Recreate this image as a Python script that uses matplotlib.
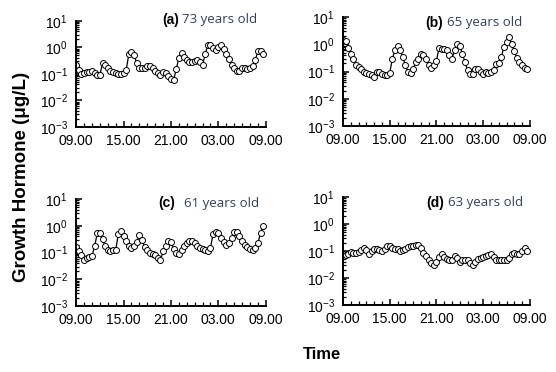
import numpy as np
import matplotlib
matplotlib.use("Agg")
import matplotlib.pyplot as plt
from matplotlib.ticker import LogLocator, MultipleLocator, FixedLocator, FixedFormatter

plt.rcParams['font.family'] = ['Liberation Sans', 'DejaVu Sans']
plt.rcParams['mathtext.default'] = 'regular'

# sample times (hours after 09.00, every 20 minutes)
hours = np.arange(72) / 3.0

time_ticks = [0, 6, 12, 18, 24]
time_labels = ['09.00', '15.00', '21.00', '03.00', '09.00']

panel_tags = ['(a)', '(b)', '(c)', '(d)']
panel_ages = ['73 years old', '65 years old', '61 years old', '63 years old']

gh_a = [0.21, 0.14, 0.10, 0.11, 0.12, 0.12, 0.13, 0.11, 0.09, 0.09, 0.25, 0.21,
        0.16, 0.13, 0.12, 0.11, 0.10, 0.10, 0.11, 0.14, 0.55, 0.68, 0.50, 0.25,
        0.16, 0.16, 0.17, 0.19, 0.20, 0.16, 0.13, 0.11, 0.09, 0.12, 0.11, 0.08,
        0.065, 0.058, 0.15, 0.40, 0.60, 0.45, 0.33, 0.28, 0.27, 0.30, 0.32, 0.27,
        0.22, 0.55, 1.25, 1.20, 0.95, 0.80, 1.00, 1.20, 0.85, 0.55, 0.35, 0.22,
        0.16, 0.13, 0.13, 0.16, 0.17, 0.15, 0.16, 0.20, 0.33, 0.72, 0.75, 0.55]

gh_b = [1.5, 1.3, 0.75, 0.45, 0.28, 0.17, 0.15, 0.12, 0.10, 0.09, 0.085, 0.075,
        0.065, 0.10, 0.10, 0.08, 0.075, 0.075, 0.09, 0.30, 0.60, 0.85, 0.60, 0.35,
        0.17, 0.10, 0.09, 0.12, 0.22, 0.30, 0.45, 0.42, 0.28, 0.17, 0.14, 0.18,
        0.25, 0.75, 0.70, 0.65, 0.60, 0.40, 0.30, 0.60, 1.05, 0.85, 0.45, 0.22,
        0.11, 0.085, 0.085, 0.12, 0.13, 0.10, 0.08, 0.095, 0.09, 0.10, 0.11, 0.19,
        0.20, 0.35, 0.80, 1.20, 1.80, 1.05, 0.55, 0.32, 0.22, 0.17, 0.14, 0.13]

gh_c = [0.16, 0.11, 0.08, 0.055, 0.065, 0.07, 0.075, 0.17, 0.52, 0.52, 0.32, 0.17,
        0.13, 0.11, 0.12, 0.12, 0.50, 0.62, 0.40, 0.27, 0.18, 0.15, 0.17, 0.25,
        0.45, 0.30, 0.16, 0.12, 0.10, 0.09, 0.08, 0.065, 0.052, 0.11, 0.17, 0.28,
        0.24, 0.14, 0.10, 0.09, 0.12, 0.17, 0.22, 0.28, 0.27, 0.22, 0.17, 0.15,
        0.14, 0.12, 0.11, 0.15, 0.50, 0.58, 0.55, 0.35, 0.25, 0.19, 0.22, 0.35,
        0.58, 0.60, 0.42, 0.28, 0.20, 0.16, 0.14, 0.13, 0.15, 0.22, 0.55, 0.95]

gh_d = [0.08, 0.07, 0.075, 0.095, 0.087, 0.085, 0.095, 0.11, 0.13, 0.11, 0.075, 0.10,
        0.12, 0.115, 0.11, 0.105, 0.12, 0.16, 0.15, 0.13, 0.12, 0.115, 0.105, 0.11,
        0.115, 0.14, 0.15, 0.16, 0.165, 0.17, 0.13, 0.087, 0.065, 0.045, 0.035, 0.03,
        0.04, 0.06, 0.075, 0.06, 0.05, 0.045, 0.048, 0.068, 0.055, 0.038, 0.045, 0.045,
        0.048, 0.035, 0.03, 0.038, 0.05, 0.055, 0.06, 0.068, 0.072, 0.078, 0.06, 0.045,
        0.045, 0.045, 0.045, 0.045, 0.055, 0.075, 0.085, 0.078, 0.08, 0.10, 0.13, 0.10]

series = [gh_a, gh_b, gh_c, gh_d]

fig = plt.figure(figsize=(5.56, 3.72), dpi=100)
rects = [
    [0.137, 0.659, 0.341, 0.285],
    [0.617, 0.661, 0.336, 0.293],
    [0.137, 0.177, 0.341, 0.288],
    [0.617, 0.180, 0.336, 0.290],
]
title_pos = [(0.545, 1.01), (0.535, 0.95), (0.524, 0.96), (0.54, 0.95)]
age_x = [0.556, 0.556, 0.571, 0.561]

for i, r in enumerate(rects):
    ax = fig.add_axes(r)
    ax.plot(hours, series[i], '-', color='black', lw=0.9,
            marker='o', ms=4.3, mfc='white', mec='black', mew=0.7)
    ax.set_yscale('log')
    ax.set_ylim(1e-3, 1e1)
    ax.set_xlim(0, 24)
    ax.yaxis.set_major_locator(LogLocator(base=10, numticks=10))
    ax.yaxis.set_minor_locator(LogLocator(base=10, subs=np.arange(2, 10), numticks=20))
    ax.xaxis.set_major_locator(FixedLocator(time_ticks))
    ax.xaxis.set_major_formatter(FixedFormatter(time_labels))
    ax.xaxis.set_minor_locator(MultipleLocator(1))
    for s in ['top', 'right']:
        ax.spines[s].set_visible(False)
    for s in ['left', 'bottom']:
        ax.spines[s].set_linewidth(1.4)
    ax.tick_params(which='major', direction='in', length=4, width=1.1,
                   labelsize=10, pad=5)
    ax.tick_params(which='minor', direction='in', length=3, width=0.9)
    ax.tick_params(axis='y', which='major', pad=6)
    ax.tick_params(axis='y', which='minor', length=2.5)
    tx, ty = title_pos[i]
    ax.text(tx, ty, panel_tags[i], transform=ax.transAxes, fontsize=10,
            fontweight='bold', ha='right', va='center', color='black')
    ax.text(age_x[i], ty, panel_ages[i], transform=ax.transAxes, fontsize=9.5,
            family=['Open Sans', 'DejaVu Sans'], ha='left', va='center',
            color='#34405c')

fig.text(0.038, 0.525, 'Growth Hormone (\u03bcg/L)', rotation=90, fontsize=13.5,
         fontweight='bold', ha='center', va='center')
fig.text(0.579, 0.046, 'Time', fontsize=12, fontweight='bold',
         ha='center', va='center')

fig.savefig('out.png', dpi=100)
